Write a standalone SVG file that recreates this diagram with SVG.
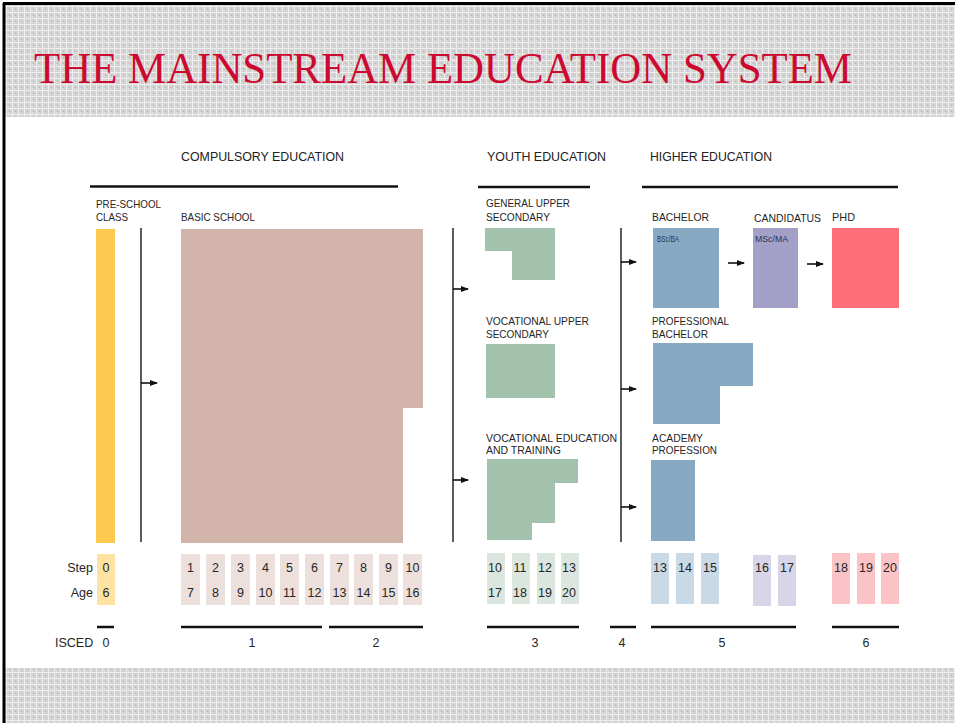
<svg xmlns="http://www.w3.org/2000/svg" width="955" height="723" viewBox="0 0 955 723">
  <defs>
    <pattern id="grid" x="0" y="0" width="6" height="6" patternUnits="userSpaceOnUse">
      <rect width="6" height="6" fill="#d2d2d2"/>
      <rect x="0" y="0" width="6" height="1" fill="#eeeeee"/>
      <rect x="0" y="0" width="1" height="6" fill="#eeeeee"/>
      <rect x="3" y="3" width="1" height="1" fill="#b4b4b4"/>
      <rect x="2" y="4" width="1" height="1" fill="#e4e4e4"/>
    </pattern>
    <marker id="arr" markerWidth="8" markerHeight="8" refX="7" refY="4" orient="auto" markerUnits="userSpaceOnUse">
      <path d="M0,1 L8,4 L0,7 Z" fill="#111"/>
    </marker>
    <style>
      .hdr { font-family: "Liberation Sans", Arial, sans-serif; font-size: 13px; fill: #222; }
      .lbl { font-family: "Liberation Sans", Arial, sans-serif; font-size: 11px; fill: #262626; }
      .sm { font-family: "Liberation Sans", Arial, sans-serif; font-size: 8.5px; fill: #26345e; }
      .num { font-family: "Liberation Sans", Arial, sans-serif; font-size: 12.5px; fill: #262626; text-anchor: middle; }
      .row { font-family: "Liberation Sans", Arial, sans-serif; font-size: 12.5px; fill: #262626; }
      .vline { stroke: #333; stroke-width: 1.6; fill: none; }
      .bar { stroke: #111; stroke-width: 2.5; fill: none; }
      .arrow { stroke: #111; stroke-width: 1.6; fill: none; marker-end: url(#arr); }
      .yel { fill: #fdc94f; }
      .pink { fill: #d3b4aa; }
      .grn { fill: #a2c2ad; }
      .blu { fill: #87a9c1; }
      .pur { fill: #a3a0c8; }
      .red { fill: #fd6e78; }
      .lyel { fill: #fde2a2; }
      .lpink { fill: #ede0dc; }
      .lgrn { fill: #dbe7de; }
      .lblu { fill: #c9d9e5; }
      .lpur { fill: #d8d5e8; }
      .lred { fill: #fcc3c7; }
    </style>
  </defs>

  <rect width="955" height="723" fill="#ffffff"/>
  <!-- slide bands -->
  <rect x="5" y="5" width="950" height="112" fill="url(#grid)"/>
  <rect x="5" y="668" width="950" height="55" fill="url(#grid)"/>
  <line x1="3" y1="3.5" x2="955" y2="3.5" stroke="#000" stroke-width="3"/>
  <line x1="4" y1="3" x2="4" y2="723" stroke="#000" stroke-width="3"/>

  <text x="34" y="83" font-family="'Liberation Serif', 'Times New Roman', serif" font-size="44" fill="#cc0a30" textLength="818" lengthAdjust="spacingAndGlyphs">THE MAINSTREAM EDUCATION SYSTEM</text>

  <!-- section headers -->
  <g id="hdr-compulsory">
    <text class="hdr" x="181" y="161" textLength="163" lengthAdjust="spacingAndGlyphs">COMPULSORY EDUCATION</text>
    <line class="bar" x1="90" y1="186.5" x2="398" y2="186.5"/>
  </g>
  <g id="hdr-youth">
    <text class="hdr" x="487" y="161" textLength="119" lengthAdjust="spacingAndGlyphs">YOUTH EDUCATION</text>
    <line class="bar" x1="478" y1="187" x2="590" y2="187"/>
  </g>
  <g id="hdr-higher">
    <text class="hdr" x="650" y="161" textLength="122" lengthAdjust="spacingAndGlyphs">HIGHER EDUCATION</text>
    <line class="bar" x1="642" y1="187" x2="898" y2="187"/>
  </g>

  <!-- nodes -->
  <g id="preschool">
    <text class="lbl" x="96" y="208" textLength="65" lengthAdjust="spacingAndGlyphs">PRE-SCHOOL</text>
    <text class="lbl" x="96" y="221" textLength="32" lengthAdjust="spacingAndGlyphs">CLASS</text>
    <rect class="yel" x="96" y="229" width="19" height="314"/>
  </g>
  <g id="basic-school">
    <text class="lbl" x="181" y="221" textLength="74" lengthAdjust="spacingAndGlyphs">BASIC SCHOOL</text>
    <path class="pink" d="M181,229 H423 V408 H403 V543 H181 Z"/>
  </g>
  <g id="general-upper-secondary">
    <text class="lbl" x="486" y="207" textLength="84" lengthAdjust="spacingAndGlyphs">GENERAL UPPER</text>
    <text class="lbl" x="486" y="221" textLength="64" lengthAdjust="spacingAndGlyphs">SECONDARY</text>
    <path class="grn" d="M485,228 H555 V280 H512 V251 H485 Z"/>
  </g>
  <g id="vocational-upper-secondary">
    <text class="lbl" x="486" y="325" textLength="103" lengthAdjust="spacingAndGlyphs">VOCATIONAL UPPER</text>
    <text class="lbl" x="486" y="338" textLength="63" lengthAdjust="spacingAndGlyphs">SECONDARY</text>
    <rect class="grn" x="486" y="344" width="69" height="54"/>
  </g>
  <g id="vocational-education-training">
    <text class="lbl" x="486" y="442" textLength="131" lengthAdjust="spacingAndGlyphs">VOCATIONAL EDUCATION</text>
    <text class="lbl" x="486" y="454" textLength="75" lengthAdjust="spacingAndGlyphs">AND TRAINING</text>
    <path class="grn" d="M487,459 H578 V483 H555 V523 H532 V540 H487 Z"/>
  </g>
  <g id="bachelor">
    <text class="lbl" x="652" y="221" textLength="57" lengthAdjust="spacingAndGlyphs">BACHELOR</text>
    <rect class="blu" x="653" y="228" width="66" height="80"/>
    <text class="sm" x="657" y="242" textLength="22" lengthAdjust="spacingAndGlyphs">BSc/BA</text>
  </g>
  <g id="candidatus">
    <text class="lbl" x="754" y="222" textLength="67" lengthAdjust="spacingAndGlyphs">CANDIDATUS</text>
    <rect class="pur" x="753" y="228" width="45" height="80"/>
    <text class="sm" x="755" y="242" textLength="33" lengthAdjust="spacingAndGlyphs">MSc/MA</text>
  </g>
  <g id="phd">
    <text class="lbl" x="832" y="221" textLength="23" lengthAdjust="spacingAndGlyphs">PHD</text>
    <rect class="red" x="832" y="228" width="67" height="80"/>
  </g>
  <g id="professional-bachelor">
    <text class="lbl" x="652" y="325" textLength="77" lengthAdjust="spacingAndGlyphs">PROFESSIONAL</text>
    <text class="lbl" x="652" y="338" textLength="56" lengthAdjust="spacingAndGlyphs">BACHELOR</text>
    <path class="blu" d="M653,343 H753 V386 H720 V424 H653 Z"/>
  </g>
  <g id="academy-profession">
    <text class="lbl" x="652" y="442" textLength="51" lengthAdjust="spacingAndGlyphs">ACADEMY</text>
    <text class="lbl" x="652" y="454" textLength="65" lengthAdjust="spacingAndGlyphs">PROFESSION</text>
    <rect class="blu" x="651" y="460" width="44" height="81"/>
  </g>

  <!-- connectors -->
  <g id="connectors">
    <line class="vline" x1="141" y1="228" x2="141" y2="542"/>
    <line class="vline" x1="453" y1="228" x2="453" y2="542"/>
    <line class="vline" x1="621" y1="228" x2="621" y2="542"/>
    <line class="arrow" x1="141" y1="383" x2="157" y2="383"/>
    <line class="arrow" x1="453" y1="289" x2="468" y2="289"/>
    <line class="arrow" x1="453" y1="480" x2="468" y2="480"/>
    <line class="arrow" x1="621" y1="262" x2="636" y2="262"/>
    <line class="arrow" x1="621" y1="389" x2="636" y2="389"/>
    <line class="arrow" x1="621" y1="507" x2="636" y2="507"/>
    <line class="arrow" x1="728" y1="263" x2="744" y2="263"/>
    <line class="arrow" x1="807" y1="264" x2="823" y2="264"/>
  </g>

  <!-- step / age table -->
  <g id="step-age">
    <text class="row" x="93" y="572" text-anchor="end">Step</text>
    <text class="row" x="93" y="597" text-anchor="end">Age</text>

    <rect class="lyel" x="97" y="554" width="18" height="51"/>
    <text class="num" x="106" y="572">0</text><text class="num" x="106" y="597">6</text>

    <rect class="lpink" x="181" y="554" width="19" height="51"/>
    <rect class="lpink" x="206" y="554" width="19" height="51"/>
    <rect class="lpink" x="231" y="554" width="19" height="51"/>
    <rect class="lpink" x="256" y="554" width="19" height="51"/>
    <rect class="lpink" x="280" y="554" width="19" height="51"/>
    <rect class="lpink" x="305" y="554" width="19" height="51"/>
    <rect class="lpink" x="330" y="554" width="19" height="51"/>
    <rect class="lpink" x="354" y="554" width="19" height="51"/>
    <rect class="lpink" x="379" y="554" width="19" height="51"/>
    <rect class="lpink" x="403" y="554" width="19" height="51"/>
    <text class="num" x="190.5" y="572">1</text><text class="num" x="190.5" y="597">7</text>
    <text class="num" x="215.5" y="572">2</text><text class="num" x="215.5" y="597">8</text>
    <text class="num" x="240.5" y="572">3</text><text class="num" x="240.5" y="597">9</text>
    <text class="num" x="265.5" y="572">4</text><text class="num" x="265.5" y="597">10</text>
    <text class="num" x="289.5" y="572">5</text><text class="num" x="289.5" y="597">11</text>
    <text class="num" x="314.5" y="572">6</text><text class="num" x="314.5" y="597">12</text>
    <text class="num" x="339.5" y="572">7</text><text class="num" x="339.5" y="597">13</text>
    <text class="num" x="363.5" y="572">8</text><text class="num" x="363.5" y="597">14</text>
    <text class="num" x="388.5" y="572">9</text><text class="num" x="388.5" y="597">15</text>
    <text class="num" x="412.5" y="572">10</text><text class="num" x="412.5" y="597">16</text>

    <rect class="lgrn" x="487" y="553" width="18" height="51"/>
    <rect class="lgrn" x="512" y="553" width="18" height="51"/>
    <rect class="lgrn" x="537" y="553" width="18" height="51"/>
    <rect class="lgrn" x="561" y="553" width="18" height="51"/>
    <text class="num" x="495" y="572">10</text><text class="num" x="495" y="597">17</text>
    <text class="num" x="520" y="572">11</text><text class="num" x="520" y="597">18</text>
    <text class="num" x="545" y="572">12</text><text class="num" x="545" y="597">19</text>
    <text class="num" x="569" y="572">13</text><text class="num" x="569" y="597">20</text>

    <rect class="lblu" x="651" y="553" width="18" height="51"/>
    <rect class="lblu" x="676" y="553" width="18" height="51"/>
    <rect class="lblu" x="701" y="553" width="18" height="51"/>
    <text class="num" x="660" y="572">13</text>
    <text class="num" x="685" y="572">14</text>
    <text class="num" x="710" y="572">15</text>

    <rect class="lpur" x="753" y="555" width="18" height="51"/>
    <rect class="lpur" x="778" y="555" width="18" height="51"/>
    <text class="num" x="762" y="572">16</text>
    <text class="num" x="787" y="572">17</text>

    <rect class="lred" x="832" y="553" width="18" height="51"/>
    <rect class="lred" x="857" y="553" width="18" height="51"/>
    <rect class="lred" x="881" y="553" width="18" height="51"/>
    <text class="num" x="841" y="572">18</text>
    <text class="num" x="866" y="572">19</text>
    <text class="num" x="890" y="572">20</text>
  </g>

  <!-- ISCED -->
  <g id="isced">
    <line class="bar" x1="97" y1="627" x2="114" y2="627"/>
    <line class="bar" x1="181" y1="627" x2="322" y2="627"/>
    <line class="bar" x1="329" y1="627" x2="423" y2="627"/>
    <line class="bar" x1="487" y1="627" x2="579" y2="627"/>
    <line class="bar" x1="610" y1="627" x2="636" y2="627"/>
    <line class="bar" x1="651" y1="627" x2="796" y2="627"/>
    <line class="bar" x1="832" y1="627" x2="899" y2="627"/>
    <text class="row" x="55" y="647">ISCED</text>
    <text class="num" x="106" y="647">0</text>
    <text class="num" x="252" y="647">1</text>
    <text class="num" x="376" y="647">2</text>
    <text class="num" x="535" y="647">3</text>
    <text class="num" x="622" y="647">4</text>
    <text class="num" x="722" y="647">5</text>
    <text class="num" x="866" y="647">6</text>
  </g>
</svg>
